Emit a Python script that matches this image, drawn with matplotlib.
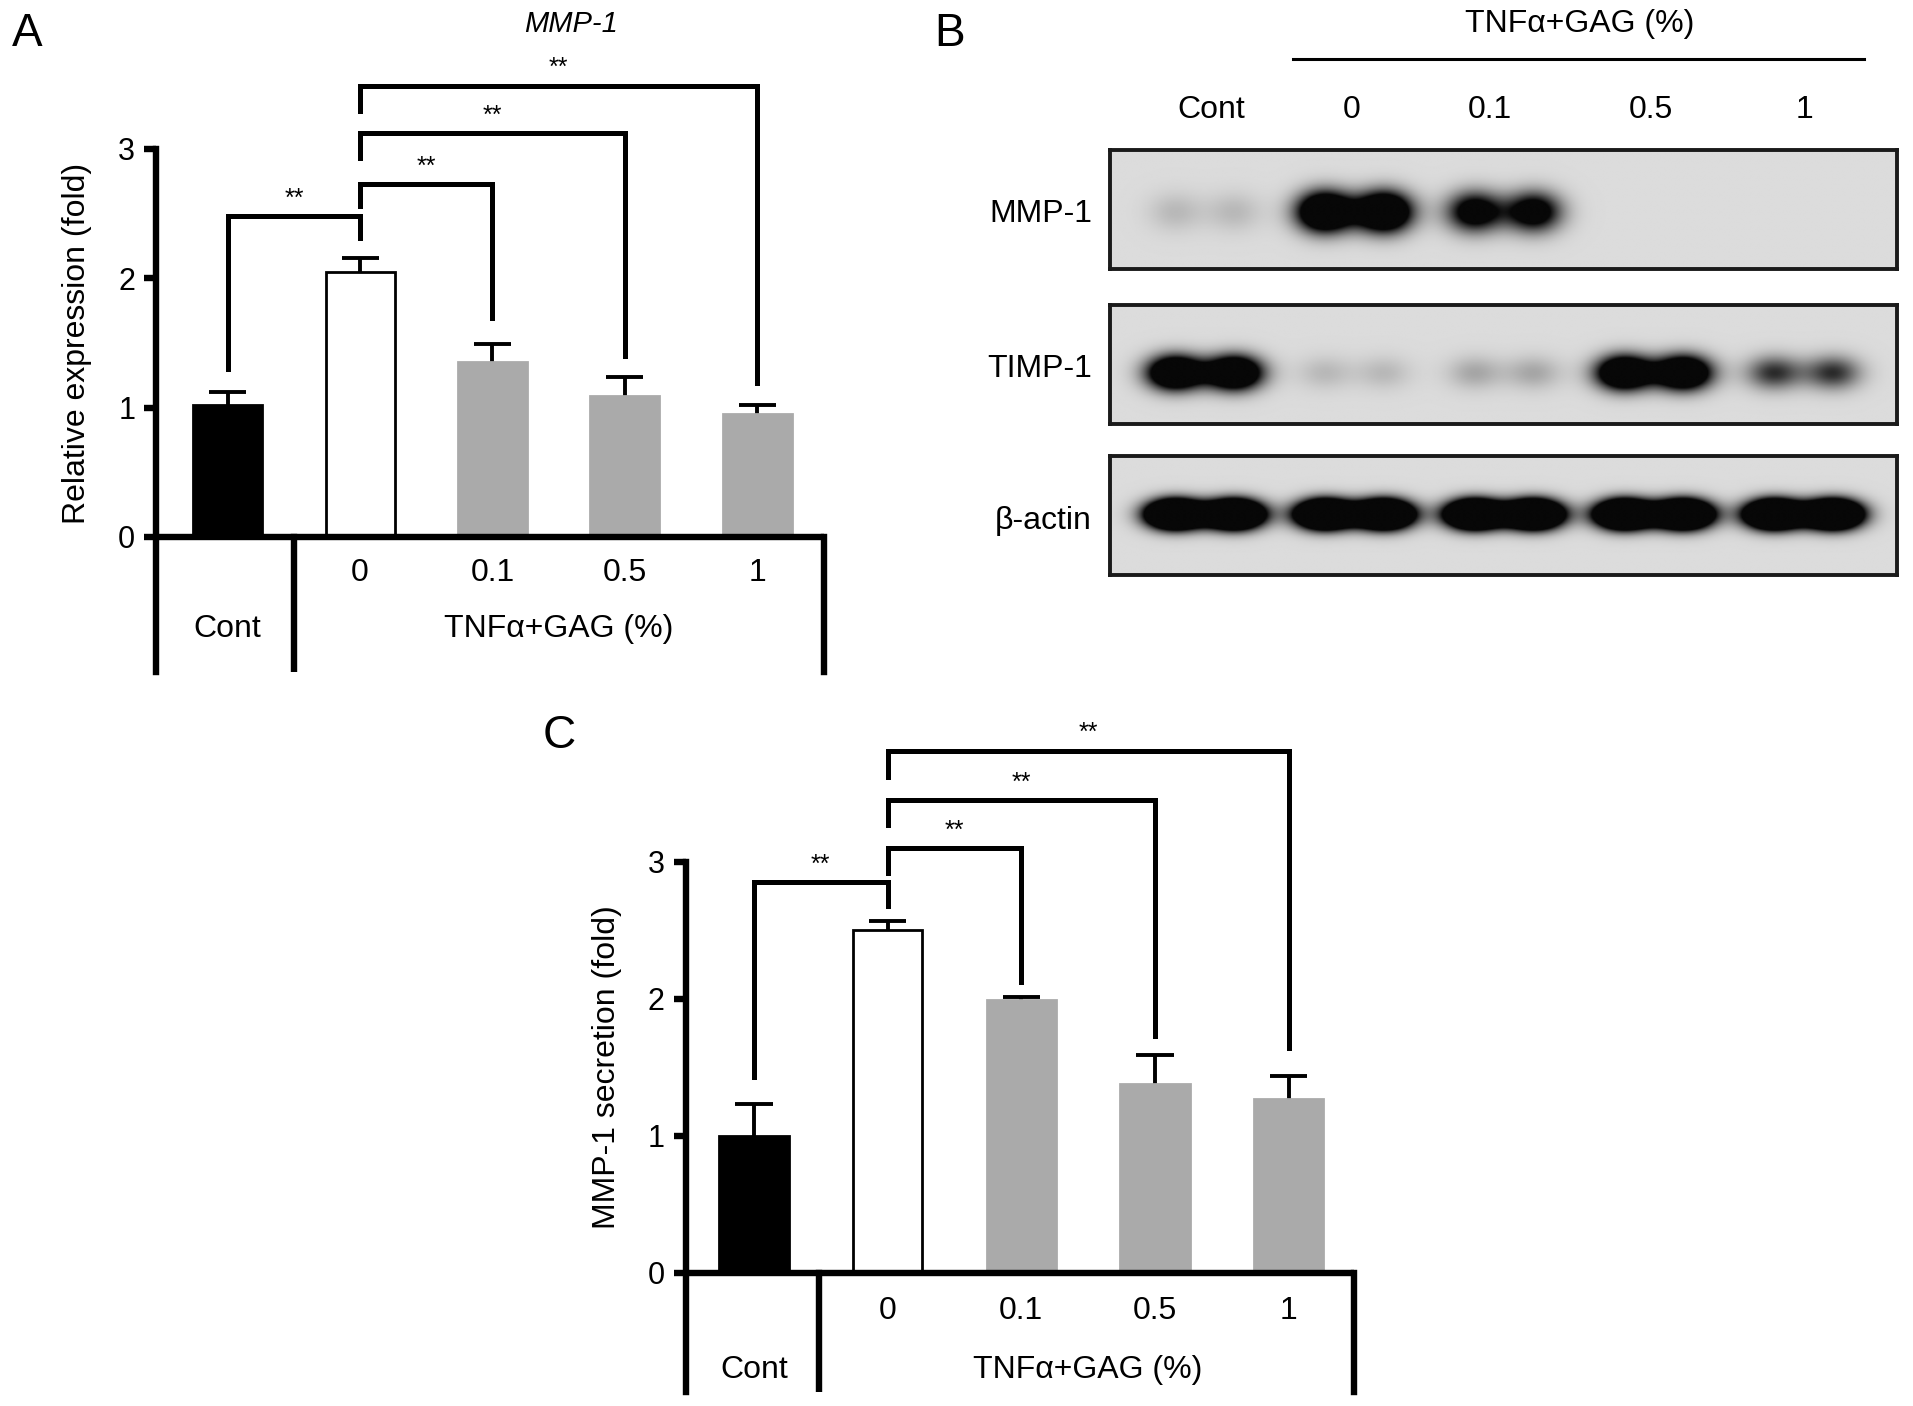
####
# MMP-1 / TIMP-1 figure: qPCR bars (A), western blot (B), ELISA bars (C)
####

import numpy as np
import matplotlib
matplotlib.use('Agg')
import matplotlib.pyplot as plt

plt.rcParams['font.family'] = ['Liberation Sans', 'DejaVu Sans']

# group labels shared by all panels
groups = ['Cont', '0', '0.1', '0.5', '1']
treat_label = 'TNFα+GAG (%)'

# Panel A: MMP-1 relative expression
a_mean = [1.02, 2.05, 1.35, 1.09, 0.95]
a_err = [0.10, 0.11, 0.14, 0.15, 0.07]
# (left group, right group, bracket top, left leg end, right leg end)
a_brackets = [(0, 1, 2.48, 1.30, 2.31),
              (1, 2, 2.73, 2.56, 1.69),
              (1, 3, 3.12, 2.93, 1.40),
              (1, 4, 3.49, 3.29, 1.19)]

# Panel C: MMP-1 secretion
c_mean = [1.00, 2.50, 1.99, 1.38, 1.27]
c_err = [0.23, 0.07, 0.02, 0.21, 0.17]
c_brackets = [(0, 1, 2.85, 1.43, 2.68),
              (1, 2, 3.10, 2.92, 2.12),
              (1, 3, 3.45, 3.27, 1.73),
              (1, 4, 3.81, 3.62, 1.64)]

# Panel B: band intensity per lane (0 = none, 1 = saturated)
blot_rows = ['MMP-1', 'TIMP-1', 'β-actin']
mmp1_band = [0.13, 1.0, 0.7, 0.0, 0.0]
timp1_band = [1.0, 0.13, 0.18, 1.0, 0.45]
actin_band = [1.0, 1.0, 1.0, 1.0, 1.0]

bar_colors = ['black', 'white', '#aaaaaa', '#aaaaaa', '#aaaaaa']
bar_edges = ['black', 'black', '#aaaaaa', '#aaaaaa', '#aaaaaa']

W, H = 1568.0, 1152.0
FS = 23


def box(x0, y0, x1, y1):
	"""pixel box (reference scale) -> figure fraction rect"""
	return [x0 / W, 1 - y1 / H, (x1 - x0) / W, (y1 - y0) / H]


def bar_panel(ax, means, errs, brackets, ylabel, xlim, ybot, ytop, divider, ylab_y):
	x = np.arange(len(means))
	means = np.array(means)
	tops = means + np.array(errs)
	ax.set_xlim(*xlim)
	ax.set_ylim(ybot, ytop)

	# error bars (upper only) behind the bars
	ax.vlines(x, means, tops, color='black', lw=2.8, zorder=1)
	ax.hlines(tops, x - 0.14, x + 0.14, color='black', lw=2.8, zorder=1)
	ax.bar(x, means, width=0.52, color=bar_colors, edgecolor=bar_edges,
		linewidth=2.0, zorder=2)

	# significance brackets
	for g1, g2, top, e1, e2 in brackets:
		ax.plot([g1, g1, g2, g2], [e1, top, top, e2], color='black', lw=3.6,
			solid_joinstyle='miter', zorder=3)
		ax.text((g1 + g2) / 2.0, top + 0.04, '**', ha='center', va='bottom',
			fontsize=18)

	# axes and the label table underneath
	for s in ['top', 'bottom']:
		ax.spines[s].set_visible(False)
	ax.spines['left'].set_bounds(ybot, 3)
	ax.spines['right'].set_bounds(ybot, 0)
	ax.spines['left'].set_linewidth(4.6)
	ax.spines['right'].set_linewidth(4.6)
	ax.axhline(0, color='black', lw=4.6, zorder=4)
	ax.plot([divider, divider], [ybot, 0], color='black', lw=4.6, zorder=4)
	ax.set_xticks([])
	ax.set_yticks([0, 1, 2, 3])
	ax.tick_params(axis='y', length=9, width=4.6, pad=6, labelsize=FS - 1)

	for i in range(1, len(groups)):
		ax.text(i, -0.28, groups[i], ha='center', va='center', fontsize=FS)
	ax.text(0, -0.71, groups[0], ha='center', va='center', fontsize=FS)
	ax.text(2.5, -0.71, treat_label, ha='center', va='center', fontsize=FS)

	ax.text(-0.118, ylab_y, ylabel, transform=ax.transAxes, rotation=90,
		ha='center', va='center', fontsize=FS)


def blot_row(ax, bands, yc, hy, gain):
	xl, xr = -0.63, 4.62
	xs = np.linspace(xl, xr, 700)
	ys = np.linspace(0, 1, 140)
	X, Y = np.meshgrid(xs, ys)
	dens = np.zeros_like(X)
	for i, b in enumerate(bands):
		for dx in (-0.2, 0.2):
			dens += b * np.exp(-((X - i - dx) / 0.14) ** 2 / 2 - ((Y - yc) / hy) ** 2 / 2)
	dark = np.clip(dens * gain, 0, 1) ** 1.3
	img = 0.86 - 0.83 * dark
	ax.imshow(img, cmap='gray', vmin=0, vmax=1, extent=(xl, xr, 0, 1),
		origin='lower', aspect='auto', interpolation='bilinear')
	ax.set_xlim(xl, xr)
	ax.set_ylim(0, 1)
	ax.set_xticks([])
	ax.set_yticks([])
	for s in ax.spines.values():
		s.set_linewidth(2.8)
		s.set_color('#1a1a1a')


fig = plt.figure(figsize=(19.13, 14.06), dpi=100)

# ---- Panel A
ax_a = fig.add_axes(box(128, 58.4, 675, 550.2))
bar_panel(ax_a, a_mean, a_err, a_brackets, 'Relative expression (fold)',
	(-0.54, 4.5), -1.04, 3.6, 0.5, 0.547)
fig.text(468 / W, 1 - 20 / H, 'MMP-1', style='italic', ha='center', va='center',
	fontsize=FS - 2)

# ---- Panel C
ax_c = fig.add_axes(box(562, 599.4, 1110, 1140.7))
bar_panel(ax_c, c_mean, c_err, c_brackets, 'MMP-1 secretion (fold)',
	(-0.51, 4.49), -0.87, 3.95, 0.49, 0.492)

# ---- Panel B (western blot)
rows = [(123, 220, mmp1_band, 0.48, 0.13, 1.9),
		(250, 347, timp1_band, 0.43, 0.11, 1.9),
		(374, 471, actin_band, 0.51, 0.09, 3.0)]
for (y0, y1, bands, yc, hy, gain), name in zip(rows, blot_rows):
	ax_b = fig.add_axes(box(910, y0, 1555, y1))
	blot_row(ax_b, bands, yc, hy, gain)
	fig.text(895 / W, 1 - ((y0 + y1) / 2.0 + 4) / H, name, ha='right', va='center',
		fontsize=FS)

lane_x = [993, 1108, 1221, 1353, 1479]
for lx, g in zip(lane_x, groups):
	fig.text(lx / W, 1 - 90 / H, g, ha='center', va='center', fontsize=FS)
fig.text(1295 / W, 1 - 20 / H, treat_label, ha='center', va='center', fontsize=FS)
fig.add_artist(plt.Line2D([1060 / W, 1528 / W], [1 - 48 / H, 1 - 48 / H],
	transform=fig.transFigure, color='black', lw=2.2))

# panel letters
for letter, (px, py) in zip('ABC', [(22, 28), (778, 28), (458, 603)]):
	fig.text(px / W, 1 - py / H, letter, ha='center', va='center', fontsize=33)

plt.savefig('out.png', dpi=100)
